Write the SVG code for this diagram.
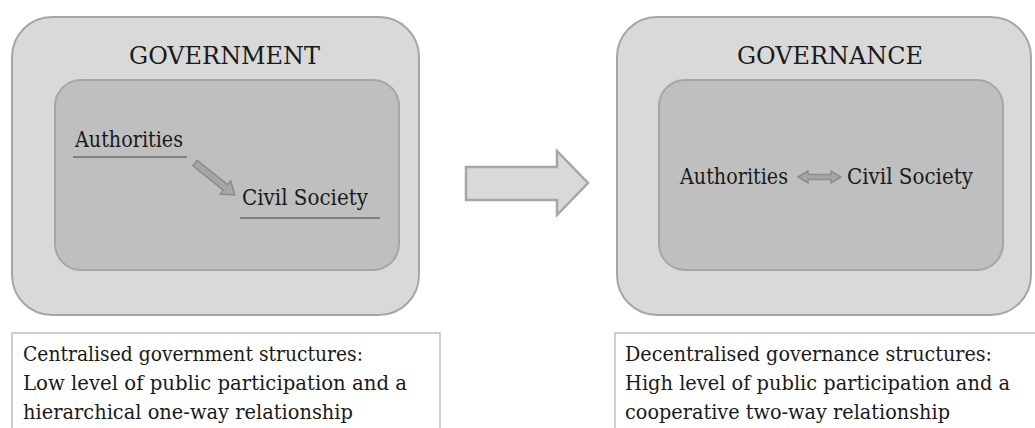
<svg xmlns="http://www.w3.org/2000/svg" width="1035" height="428" viewBox="0 0 1035 428">
<style>
.outer{fill:#d9d9d9;stroke:#a6a6a6;stroke-width:2}
.inner{fill:#bfbfbf;stroke:#a6a6a6;stroke-width:2}
.t{font-family:'DejaVu Serif','Liberation Serif',serif;fill:#1a1a1a}
.title{font-size:24.5px}
.lbl{font-size:21.5px}
.body{font-size:20.5px}
.ul{stroke:#808080;stroke-width:2}
.arr{fill:#a6a6a6;stroke:#8c8c8c;stroke-width:1.5}
.big{fill:#d9d9d9;stroke:#a6a6a6;stroke-width:2.5}
.note{fill:#ffffff;stroke:#bfbfbf;stroke-width:1.5}
</style>
<rect width="1035" height="428" fill="#ffffff"/>
<g id="government">
<rect class="outer" x="12" y="17" width="407" height="298" rx="40"/>
<text class="t title" x="129" y="64" textLength="191" lengthAdjust="spacingAndGlyphs">GOVERNMENT</text>
<rect class="inner" x="55" y="80" width="344" height="190" rx="26"/>
<text class="t lbl" x="75" y="147" textLength="108" lengthAdjust="spacingAndGlyphs">Authorities</text>
<line class="ul" x1="73" y1="157" x2="187" y2="157"/>
<text class="t lbl" x="242" y="205" textLength="126" lengthAdjust="spacingAndGlyphs">Civil Society</text>
<line class="ul" x1="240" y1="218" x2="380" y2="218"/>
</g>
<g id="governance">
<rect class="outer" x="617" y="17" width="414" height="298" rx="40"/>
<text class="t title" x="737" y="64" textLength="186" lengthAdjust="spacingAndGlyphs">GOVERNANCE</text>
<rect class="inner" x="659" y="80" width="344" height="190" rx="26"/>
<text class="t lbl" x="680" y="184" textLength="108" lengthAdjust="spacingAndGlyphs">Authorities</text>
<text class="t lbl" x="847" y="184" textLength="126" lengthAdjust="spacingAndGlyphs">Civil Society</text>
</g>
<g id="connectors">
<polygon class="arr" transform="translate(195,163) rotate(38.7)" points="0,-3.5 39,-3.5 39,-8.5 51,0 39,8.5 39,3.5 0,3.5"/>
<polygon class="arr" points="798,177 808,171 808,174.5 831,174.5 831,171 841,177 831,183 831,179.5 808,179.5 808,183"/>
<polygon class="big" points="466,167 557,167 557,151 588,183 557,215 557,200 466,200"/>
</g>
<g id="note-left">
<rect class="note" x="12" y="333" width="428" height="100"/>
<text class="t body" x="23" y="361" textLength="340" lengthAdjust="spacingAndGlyphs">Centralised  government  structures:</text>
<text class="t body" x="23" y="390" textLength="384" lengthAdjust="spacingAndGlyphs">Low level of public participation and a</text>
<text class="t body" x="23" y="419" textLength="330" lengthAdjust="spacingAndGlyphs">hierarchical one-way relationship</text>
</g>
<g id="note-right">
<rect class="note" x="615" y="333" width="430" height="100"/>
<text class="t body" x="625" y="361" textLength="367" lengthAdjust="spacingAndGlyphs">Decentralised governance structures:</text>
<text class="t body" x="625" y="390" textLength="385" lengthAdjust="spacingAndGlyphs">High level of public participation and a</text>
<text class="t body" x="625" y="419" textLength="325" lengthAdjust="spacingAndGlyphs">cooperative two-way relationship</text>
</g>
</svg>
